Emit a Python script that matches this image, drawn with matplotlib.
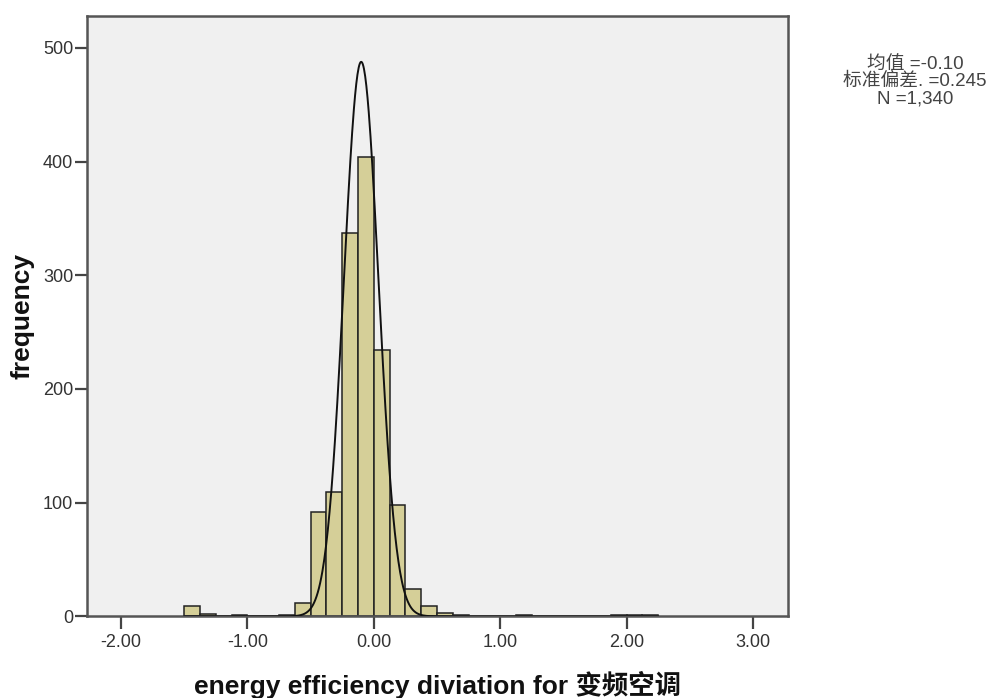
import numpy as np
import matplotlib.pyplot as plt

plt.rcParams['font.family'] = ['Liberation Sans', 'Noto Sans CJK SC', 'DejaVu Sans']

# histogram bins (left edge) and counts, width 0.125
bin_left = [-1.5, -1.375, -1.125, -0.75, -0.625, -0.5, -0.375, -0.25, -0.125,
            0.0, 0.125, 0.25, 0.375, 0.5, 0.625, 1.125, 1.875, 2.0, 2.125]
counts = [9, 2, 1, 1, 12, 92, 109, 337, 404,
          234, 98, 24, 9, 3, 1, 1, 1, 1, 1]
bin_width = 0.125

# fitted normal curve
curve_mean = -0.10
curve_sd = 0.137
n_total = 1340

x_ticks = [-2, -1, 0, 1, 2, 3]
x_ticklabels = ["-2.00", "-1.00", "0.00", "1.00", "2.00", "3.00"]
y_ticks = [0, 100, 200, 300, 400, 500]

stats_text = "均值 =-0.10\n标准偏差. =0.245\nN =1,340"

fig = plt.figure(figsize=(9.89, 6.98), dpi=100)
ax = fig.add_axes([0.088, 0.117, 0.709, 0.860])
ax.set_facecolor('#F0F0F0')

ax.bar(bin_left, counts, width=bin_width, align='edge',
       color='#D5CF98', edgecolor='#222222', linewidth=1.1, zorder=2)

xc = np.linspace(-1.5, 2.25, 800)
yc = n_total * bin_width / (curve_sd * np.sqrt(2 * np.pi)) * np.exp(-0.5 * ((xc - curve_mean) / curve_sd) ** 2)
ax.plot(xc, yc, color='#111111', linewidth=1.4, zorder=3)

ax.set_xlim(-2.27, 3.28)
ax.set_ylim(0, 528)
ax.set_xticks(x_ticks)
ax.set_xticklabels(x_ticklabels)
ax.set_yticks(y_ticks)
ax.tick_params(axis='both', direction='out', length=9, width=1.6, color='#444444',
               labelsize=13, labelcolor='#333333')
ax.tick_params(axis='x', pad=4)
ax.tick_params(axis='y', pad=1)

for s in ax.spines.values():
    s.set_color('#555555')
    s.set_linewidth(1.8)

ax.set_xlabel("energy efficiency diviation for 变频空调", fontsize=19, fontweight='bold',
              labelpad=14, color='#111111')
ax.set_ylabel("frequency", fontsize=19, fontweight='bold', labelpad=6, color='#111111')

fig.text(0.925, 0.883, stats_text, ha='center', va='center', fontsize=13.5,
         color='#444444', linespacing=1.0)

fig.savefig('out.png', dpi=100, facecolor='white')
